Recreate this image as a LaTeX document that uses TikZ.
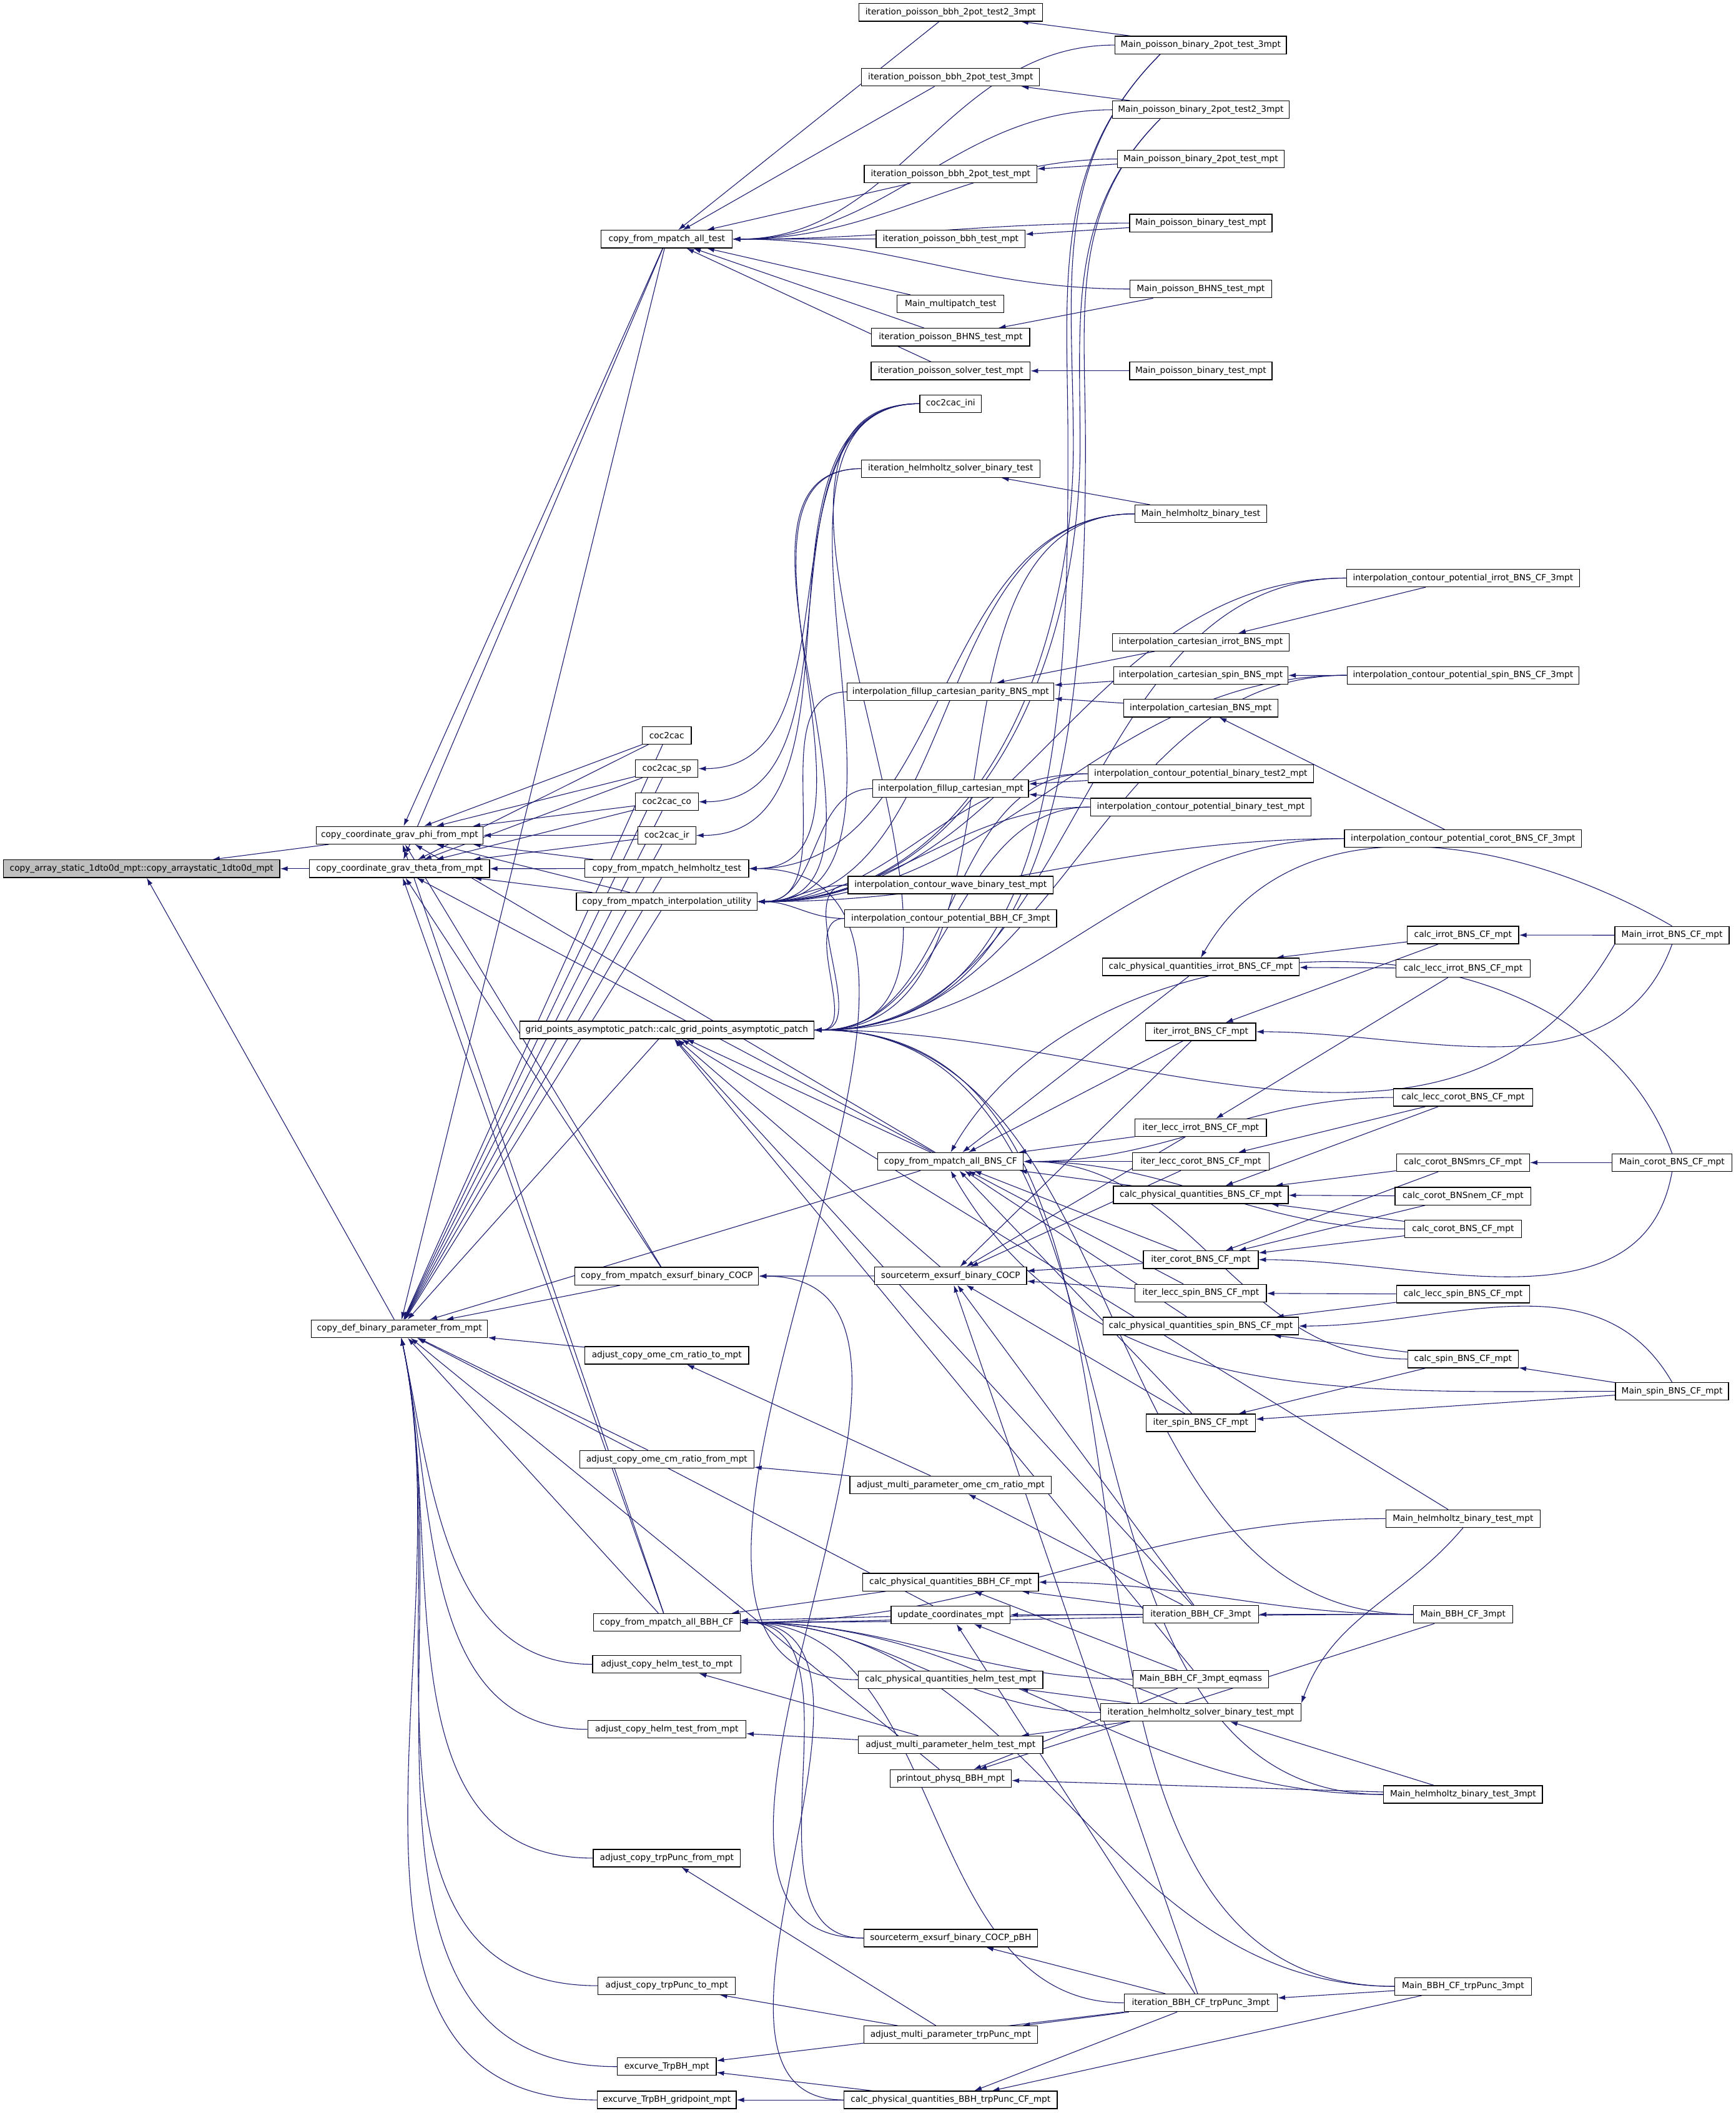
\documentclass[tikz,border=0pt]{standalone}
\usepackage{fontspec}
\setmainfont{DejaVu Sans}
\usetikzlibrary{arrows.meta,backgrounds}

\definecolor{callblue}{HTML}{191970}
\definecolor{rootgray}{HTML}{BFBFBF}

\tikzset{
  fn/.style={draw=black, fill=white, line width=0.6pt, minimum height=13pt,
    inner xsep=1pt, inner ysep=0pt, font=\fontsize{6.35}{7}\selectfont},
  root/.style={fn, fill=rootgray},
  callline/.style={{Latex[length=5.5pt,width=3.6pt]}-, draw=callblue, line width=0.5pt},
}

\begin{document}
\begin{tikzpicture}[x=1pt,y=-1pt]
	\useasboundingbox (0,0) rectangle (1287,1566.7);

	%wezel glowny i pierwsza kolumna
	\node[root, minimum width=205pt] (arr) at (105,644.1) {copy\_array\_static\_1dto0d\_mpt::copy\_arraystatic\_1dto0d\_mpt};
	\node[fn, minimum width=123.6pt] (phi) at (296.3,619.3) {copy\_coordinate\_grav\_phi\_from\_mpt};
	\node[fn, minimum width=133.6pt] (theta) at (296.3,644.1) {copy\_coordinate\_grav\_theta\_from\_mpt};
	\node[fn, minimum width=130.7pt] (defbin) at (296.2,985.2) {copy\_def\_binary\_parameter\_from\_mpt};

	%kolumna 2
	\node[fn, minimum width=97.2pt] (allt) at (494.5,177.3) {copy\_from\_mpatch\_all\_test};
	\node[fn, minimum width=36.4pt] (cc) at (494.5,545.2) {coc2cac};
	\node[fn, minimum width=46.3pt] (ccsp) at (494.5,569.9) {coc2cac\_sp};
	\node[fn, minimum width=46.8pt] (ccco) at (494.5,594.5) {coc2cac\_co};
	\node[fn, minimum width=43pt] (ccir) at (494.5,619.4) {coc2cac\_ir};
	\node[fn, minimum width=121.6pt] (helmt) at (494.5,644) {copy\_from\_mpatch\_helmholtz\_test};
	\node[fn, minimum width=134pt] (interp) at (494.5,668.5) {copy\_from\_mpatch\_interpolation\_utility};
	\node[fn, minimum width=218pt] (grid) at (494.5,763.7) {grid\_points\_asymptotic\_patch::calc\_grid\_points\_asymptotic\_patch};
	\node[fn, minimum width=136.1pt] (exsurf) at (494.5,946.2) {copy\_from\_mpatch\_exsurf\_binary\_COCP};
	\node[fn, minimum width=121.5pt] (omet) at (494.5,1004.9) {adjust\_copy\_ome\_cm\_ratio\_to\_mpt};
	\node[fn, minimum width=129.1pt] (omef) at (494.5,1082) {adjust\_copy\_ome\_cm\_ratio\_from\_mpt};
	\node[fn, minimum width=108.7pt] (allbbh) at (494.5,1202.9) {copy\_from\_mpatch\_all\_BBH\_CF};
	\node[fn, minimum width=110pt] (helmto) at (494.5,1234) {adjust\_copy\_helm\_test\_to\_mpt};
	\node[fn, minimum width=117.3pt] (helmfrom) at (494.5,1282.2) {adjust\_copy\_helm\_test\_from\_mpt};
	\node[fn, minimum width=109.1pt] (trpfrom) at (494.5,1377.7) {adjust\_copy\_trpPunc\_from\_mpt};
	\node[fn, minimum width=101.9pt] (trpto) at (494.5,1472.3) {adjust\_copy\_trpPunc\_to\_mpt};
	\node[fn, minimum width=73.3pt] (excur) at (494.5,1532.3) {excurve\_TrpBH\_mpt};
	\node[fn, minimum width=103pt] (excurgp) at (494.5,1557) {excurve\_TrpBH\_gridpoint\_mpt};

	%kolumna 3
	\node[fn, minimum width=136pt] (ipbA) at (705,9.2) {iteration\_poisson\_bbh\_2pot\_test2\_3mpt};
	\node[fn, minimum width=132pt] (ipbB) at (705,57.3) {iteration\_poisson\_bbh\_2pot\_test\_3mpt};
	\node[fn, minimum width=128pt] (ipbC) at (705,129.1) {iteration\_poisson\_bbh\_2pot\_test\_mpt};
	\node[fn, minimum width=110.4pt] (ipbD) at (705,177.2) {iteration\_poisson\_bbh\_test\_mpt};
	\node[fn, minimum width=79.2pt] (mmt) at (705,225.4) {Main\_multipatch\_test};
	\node[fn, minimum width=117.2pt] (ipBHNS) at (705,250) {iteration\_poisson\_BHNS\_test\_mpt};
	\node[fn, minimum width=118pt] (ipsol) at (705,275) {iteration\_poisson\_solver\_test\_mpt};
	\node[fn, minimum width=45.6pt] (ccini) at (705,299.3) {coc2cac\_ini};
	\node[fn, minimum width=132.5pt] (ihsbt) at (705,347.5) {iteration\_helmholtz\_solver\_binary\_test};
	\node[fn, minimum width=153.3pt] (ifcp) at (705,513) {interpolation\_fillup\_cartesian\_parity\_BNS\_mpt};
	\node[fn, minimum width=115.6pt] (ifc) at (705,584.7) {interpolation\_fillup\_cartesian\_mpt};
	\node[fn, minimum width=152.1pt] (icwave) at (705,656.2) {interpolation\_contour\_wave\_binary\_test\_mpt};
	\node[fn, minimum width=157.1pt] (icbbh) at (705,681) {interpolation\_contour\_potential\_BBH\_CF\_3mpt};
	\node[fn, minimum width=107.9pt] (allbns) at (705,861.2) {copy\_from\_mpatch\_all\_BNS\_CF};
	\node[fn, minimum width=112.7pt] (stcocp) at (705,946) {sourceterm\_exsurf\_binary\_COCP};
	\node[fn, minimum width=149.5pt] (amome) at (705,1101) {adjust\_multi\_parameter\_ome\_cm\_ratio\_mpt};
	\node[fn, minimum width=130.2pt] (cpqbbh) at (705,1173.1) {calc\_physical\_quantities\_BBH\_CF\_mpt};
	\node[fn, minimum width=88.3pt] (upd) at (705,1197.4) {update\_coordinates\_mpt};
	\node[fn, minimum width=136.8pt] (cpqhelm) at (705,1245.4) {calc\_physical\_quantities\_helm\_test\_mpt};
	\node[fn, minimum width=136.8pt] (amhelm) at (705,1293.7) {adjust\_multi\_parameter\_helm\_test\_mpt};
	\node[fn, minimum width=90pt] (printout) at (705,1318.7) {printout\_physq\_BBH\_mpt};
	\node[fn, minimum width=128.9pt] (stpbh) at (705,1437) {sourceterm\_exsurf\_binary\_COCP\_pBH};
	\node[fn, minimum width=128.9pt] (amtrp) at (705,1508.7) {adjust\_multi\_parameter\_trpPunc\_mpt};
	\node[fn, minimum width=158.1pt] (cpqtrp) at (705,1557) {calc\_physical\_quantities\_BBH\_trpPunc\_CF\_mpt};

	%kolumna 4
	\node[fn, minimum width=127pt] (mpbA) at (890.5,33.4) {Main\_poisson\_binary\_2pot\_test\_3mpt};
	\node[fn, minimum width=131pt] (mpbB) at (890.5,81.4) {Main\_poisson\_binary\_2pot\_test2\_3mpt};
	\node[fn, minimum width=123.5pt] (mpbC) at (890.5,117.9) {Main\_poisson\_binary\_2pot\_test\_mpt};
	\node[fn, minimum width=105.6pt] (mpbD) at (890.5,165.4) {Main\_poisson\_binary\_test\_mpt};
	\node[fn, minimum width=105pt] (mpBHNS) at (890.5,214.3) {Main\_poisson\_BHNS\_test\_mpt};
	\node[fn, minimum width=105.6pt] (mpbE) at (890.5,275) {Main\_poisson\_binary\_test\_mpt};
	\node[fn, minimum width=97.9pt] (mhbt) at (890.5,381) {Main\_helmholtz\_binary\_test};
	\node[fn, minimum width=130.9pt] (icirrot) at (890.5,476.2) {interpolation\_cartesian\_irrot\_BNS\_mpt};
	\node[fn, minimum width=129.3pt] (icspin) at (890.5,500.8) {interpolation\_cartesian\_spin\_BNS\_mpt};
	\node[fn, minimum width=114.4pt] (icbns) at (890.5,525.1) {interpolation\_cartesian\_BNS\_mpt};
	\node[fn, minimum width=167.4pt] (icpt2) at (890.5,573.7) {interpolation\_contour\_potential\_binary\_test2\_mpt};
	\node[fn, minimum width=163.6pt] (icpt) at (890.5,598.4) {interpolation\_contour\_potential\_binary\_test\_mpt};
	\node[fn, minimum width=146pt] (cpqirrot) at (890.5,716.9) {calc\_physical\_quantities\_irrot\_BNS\_CF\_mpt};
	\node[fn, minimum width=81.6pt] (iterirrot) at (890.5,765) {iter\_irrot\_BNS\_CF\_mpt};
	\node[fn, minimum width=97.4pt] (itlirrot) at (890.5,836.2) {iter\_lecc\_irrot\_BNS\_CF\_mpt};
	\node[fn, minimum width=101.4pt] (itlcorot) at (890.5,861.2) {iter\_lecc\_corot\_BNS\_CF\_mpt};
	\node[fn, minimum width=129.7pt] (cpqbns) at (890.5,885.9) {calc\_physical\_quantities\_BNS\_CF\_mpt};
	\node[fn, minimum width=85.2pt] (itercorot) at (890.5,934) {iter\_corot\_BNS\_CF\_mpt};
	\node[fn, minimum width=97.4pt] (itlspin) at (890.5,958.8) {iter\_lecc\_spin\_BNS\_CF\_mpt};
	\node[fn, minimum width=145pt] (cpqspin) at (890.5,983.2) {calc\_physical\_quantities\_spin\_BNS\_CF\_mpt};
	\node[fn, minimum width=81.2pt] (iterspin) at (890.5,1055) {iter\_spin\_BNS\_CF\_mpt};
	\node[fn, minimum width=85.6pt] (itbbh) at (890.5,1197) {iteration\_BBH\_CF\_3mpt};
	\node[fn, minimum width=100.5pt] (mbbheq) at (890.5,1245) {Main\_BBH\_CF\_3mpt\_eqmass};
	\node[fn, minimum width=148.5pt] (ihsbtm) at (890.5,1269.7) {iteration\_helmholtz\_solver\_binary\_test\_mpt};
	\node[fn, minimum width=113.6pt] (itbbhtrp) at (890.5,1485) {iteration\_BBH\_CF\_trpPunc\_3mpt};

	%kolumna 5
	\node[fn, minimum width=172.8pt] (icpirrot) at (1085,428.6) {interpolation\_contour\_potential\_irrot\_BNS\_CF\_3mpt};
	\node[fn, minimum width=172pt] (icpspin) at (1085,500.7) {interpolation\_contour\_potential\_spin\_BNS\_CF\_3mpt};
	\node[fn, minimum width=175.9pt] (icpcorot) at (1085,621.8) {interpolation\_contour\_potential\_corot\_BNS\_CF\_3mpt};
	\node[fn, minimum width=82.6pt] (cirrot) at (1085,693.3) {calc\_irrot\_BNS\_CF\_mpt};
	\node[fn, minimum width=99.5pt] (clirrot) at (1085,718) {calc\_lecc\_irrot\_BNS\_CF\_mpt};
	\node[fn, minimum width=103.1pt] (clcorot) at (1085,813.7) {calc\_lecc\_corot\_BNS\_CF\_mpt};
	\node[fn, minimum width=98.7pt] (ccmrs) at (1085,862) {calc\_corot\_BNSmrs\_CF\_mpt};
	\node[fn, minimum width=100.9pt] (ccnem) at (1085,886.9) {calc\_corot\_BNSnem\_CF\_mpt};
	\node[fn, minimum width=86.5pt] (ccorot) at (1085,911.2) {calc\_corot\_BNS\_CF\_mpt};
	\node[fn, minimum width=98.7pt] (clspin) at (1085,959.6) {calc\_lecc\_spin\_BNS\_CF\_mpt};
	\node[fn, minimum width=82.1pt] (cspin) at (1085,1007.7) {calc\_spin\_BNS\_CF\_mpt};
	\node[fn, minimum width=114.5pt] (mhbtm) at (1085,1126) {Main\_helmholtz\_binary\_test\_mpt};
	\node[fn, minimum width=73.7pt] (mbbh) at (1085,1197) {Main\_BBH\_CF\_3mpt};
	\node[fn, minimum width=117.7pt] (mhbt3) at (1085,1330.5) {Main\_helmholtz\_binary\_test\_3mpt};
	\node[fn, minimum width=101.3pt] (mbbhtrp) at (1085,1472.8) {Main\_BBH\_CF\_trpPunc\_3mpt};

	%kolumna 6
	\node[fn, minimum width=84.7pt] (mirrot) at (1240,693.4) {Main\_irrot\_BNS\_CF\_mpt};
	\node[fn, minimum width=88.8pt] (mcorot) at (1240,862) {Main\_corot\_BNS\_CF\_mpt};
	\node[fn, minimum width=83.8pt] (mspin) at (1240,1031.6) {Main\_spin\_BNS\_CF\_mpt};

	\begin{scope}[on background layer]
	%wywolania proste
	\foreach \from/\to in {phi/arr, theta/arr, defbin/arr,
		allt/phi, cc/phi, ccsp/phi, ccco/phi, ccir/phi, helmt/phi, interp/phi, exsurf/phi, allbbh/phi, allbns/phi,
		allt/theta, cc/theta, ccsp/theta, ccco/theta, ccir/theta, helmt/theta, interp/theta, exsurf/theta, allbbh/theta, allbns/theta,
		allt/defbin, cc/defbin, ccsp/defbin, ccco/defbin, ccir/defbin, helmt/defbin, interp/defbin, grid/defbin,
		exsurf/defbin, allbns/defbin, omet/defbin, omef/defbin, allbbh/defbin, upd/defbin, printout/defbin,
		ipbA/allt, ipbB/allt, ipbC/allt, ipbD/allt, mmt/allt, ipBHNS/allt, ipsol/allt,
		mpbA/ipbA, mpbB/ipbB, mpbC/ipbC, mpbD/ipbD, mpBHNS/ipBHNS, mpbE/ipsol,
		mhbt/ihsbt, icirrot/ifcp, icspin/ifcp, icbns/ifcp,
		icpirrot/icirrot, icpspin/icspin, icpcorot/icbns, icpt2/ifc, icpt/ifc,
		allbns/grid, stcocp/grid, itbbh/grid, mbbheq/grid, mhbtm/grid,
		cpqirrot/allbns, iterirrot/allbns, itlirrot/allbns, itlcorot/allbns, cpqbns/allbns,
		itercorot/allbns, itlspin/allbns, cpqspin/allbns, iterspin/allbns,
		iterirrot/stcocp, itlirrot/stcocp, itlcorot/stcocp, itercorot/stcocp, itlspin/stcocp,
		iterspin/stcocp, itbbh/stcocp, itbbhtrp/stcocp, stcocp/exsurf,
		cirrot/cpqirrot, clirrot/cpqirrot, cirrot/iterirrot, mirrot/cirrot, clirrot/itlirrot, clcorot/itlcorot,
		clcorot/cpqbns, ccmrs/cpqbns, ccnem/cpqbns, ccorot/cpqbns,
		ccmrs/itercorot, ccnem/itercorot, ccorot/itercorot, mcorot/ccmrs,
		clspin/itlspin, clspin/cpqspin, cspin/cpqspin, cspin/iterspin, mspin/iterspin, mspin/cspin,
		itbbh/upd, itbbhtrp/upd, ihsbtm/upd, itbbh/cpqbbh, mbbheq/cpqbbh, mbbh/itbbh,
		itbbh/amome, amome/omet, amome/omef, mhbt3/printout, mbbh/printout, mbbheq/printout,
		ihsbtm/cpqhelm, ihsbtm/amhelm, mhbt3/ihsbtm, amhelm/helmfrom, amhelm/helmto,
		itbbhtrp/stpbh, itbbhtrp/amtrp, amtrp/trpto, amtrp/trpfrom,
		itbbhtrp/cpqtrp, mbbhtrp/cpqtrp, mbbhtrp/itbbhtrp, itbbhtrp/excur, cpqtrp/excur, cpqtrp/excurgp,
		cpqbbh/allbbh, upd/allbbh}
		\draw[callline] (\to) -- (\from);

	%wywolania dalekie
	\foreach \from/\to in {mpbA/allt, mpbB/allt, mpbC/allt, mpbD/allt, mpBHNS/allt,
		ccini/ccsp, ccini/ccco, ccini/ccir, ihsbt/helmt, mhbt/helmt, cpqhelm/helmt,
		ccini/interp, ihsbt/interp, mhbt/interp, ifcp/interp, ifc/interp, icwave/interp, icbbh/interp,
		icpirrot/interp, icpspin/interp, icpcorot/interp, icpt2/interp, icpt/interp,
		ccini/grid, mhbt/grid, icpirrot/grid, icpspin/grid, icpcorot/grid, icpt2/grid, icpt/grid,
		icwave/grid, icbbh/grid, mbbh/grid, mbbhtrp/grid, mhbt3/grid,
		clcorot/allbns, ccorot/allbns, cspin/allbns, stpbh/exsurf, mbbh/cpqbbh,
		itbbh/allbbh, mbbh/allbbh, mbbheq/allbbh, ihsbtm/allbbh, mhbtm/allbbh, mhbt3/allbbh,
		stpbh/allbbh, itbbhtrp/allbbh, mbbhtrp/allbbh, cpqtrp/allbbh}
		\draw[callline] (\to.east) to[out=0,in=180] (\from.west);

	%z glownych programow poisson w dol
	\foreach \from/\to/\bx in {mpbA/interp/796, mpbB/interp/801, mpbA/grid/792, mpbB/grid/805}
		\draw[callline] (\to.east) to[out=0,in=-90] (\bx,330) to[out=90,in=-135] ([xshift=-30pt]\from.south);

	%od dolu do copy_def_binary_parameter_from_mpt
	\foreach \from in {helmto, helmfrom, trpfrom, trpto, excur, excurgp}
		\draw[callline] (defbin) to[out=-78,in=180] (\from.west);

	%luki
	\draw[callline] (cpqirrot.north) to[out=60,in=150] (mirrot.north);
	\draw[callline] (iterirrot.east) to[out=0,in=-110] (mirrot.south);
	\draw[callline] (grid.east) to[out=0,in=-120] (mirrot.south west);
	\draw[callline] (allbns.north) to[out=60,in=110] (mcorot.north);
	\draw[callline] (itercorot.east) to[out=0,in=-100] (mcorot.south);
	\draw[callline] (cpqspin.east) to[out=0,in=120] (mspin.north);
	\draw[callline] (allbns.south) to[out=-60,in=180] (mspin.west);
	\draw[callline] (ihsbtm.north east) to[out=70,in=-130] (mhbtm.south);
	\end{scope}
\end{tikzpicture}
\end{document}
